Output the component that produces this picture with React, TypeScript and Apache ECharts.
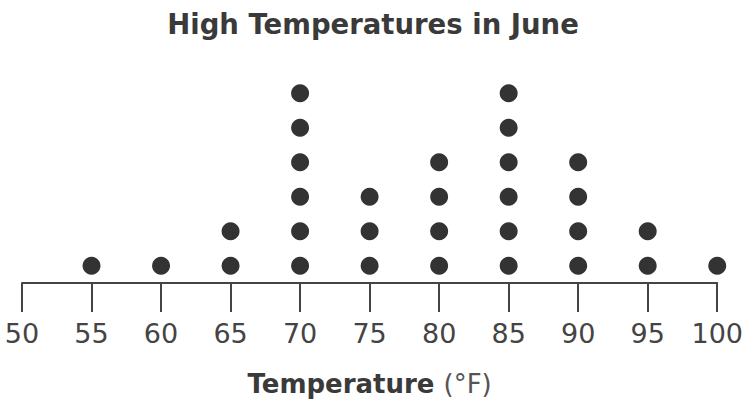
import React, { useEffect, useRef } from "react";
import * as echarts from "echarts";

const temperatures = [55, 60, 65, 70, 75, 80, 85, 90, 95, 100];
const counts = [1, 1, 2, 6, 3, 4, 6, 4, 2, 1];
const titleText = "High Temperatures in June";
const axisTitleBold = "Temperature";
const axisTitleUnit = "(°F)";

export default function App() {
  const ref = useRef<HTMLDivElement>(null);
  useEffect(() => {
    if (!ref.current) return;
    const chart = echarts.init(ref.current, null, { renderer: "svg" });
    const points: number[][] = [];
    temperatures.forEach((t, i) => {
      for (let k = 0; k < counts[i]; k++) points.push([t, k + 0.5]);
    });
    const font = "'DejaVu Sans', Verdana, sans-serif";
    chart.setOption({
      animation: false,
      backgroundColor: "#ffffff",
      title: {
        text: titleText,
        left: "center",
        top: 5,
        textStyle: { fontFamily: font, fontSize: 27.5, fontWeight: "bold", color: "#3a3a3a" },
      },
      grid: { left: 22, right: 28, top: 76, bottom: 121 },
      xAxis: {
        type: "value",
        min: 50,
        max: 100,
        interval: 5,
        splitLine: { show: false },
        axisLine: { show: true, lineStyle: { color: "#444", width: 2 } },
        axisTick: { show: true, length: 29, lineStyle: { color: "#444", width: 2 } },
        axisLabel: { margin: 37, fontFamily: font, fontSize: 27, color: "#444" },
        name: `{b|${axisTitleBold}}{n|${axisTitleUnit}}`,
        nameLocation: "middle",
        nameGap: 88,
        nameTextStyle: {
          rich: {
            b: { fontFamily: font, fontSize: 26, fontWeight: "bold", color: "#3a3a3a" },
            n: { fontFamily: font, fontSize: 26, color: "#555", padding: [0, 0, 0, 9] },
          },
        },
      },
      yAxis: { type: "value", min: 0, max: 6, show: false, splitLine: { show: false } },
      series: [
        {
          type: "scatter",
          data: points,
          symbol: "circle",
          symbolSize: 18,
          itemStyle: { color: "#333333", opacity: 1 },
        },
      ],
    });
    return () => chart.dispose();
  }, []);
  return <div ref={ref} style={{ width: 746, height: 404, position: "absolute", left: 0, top: 0 }} />;
}
